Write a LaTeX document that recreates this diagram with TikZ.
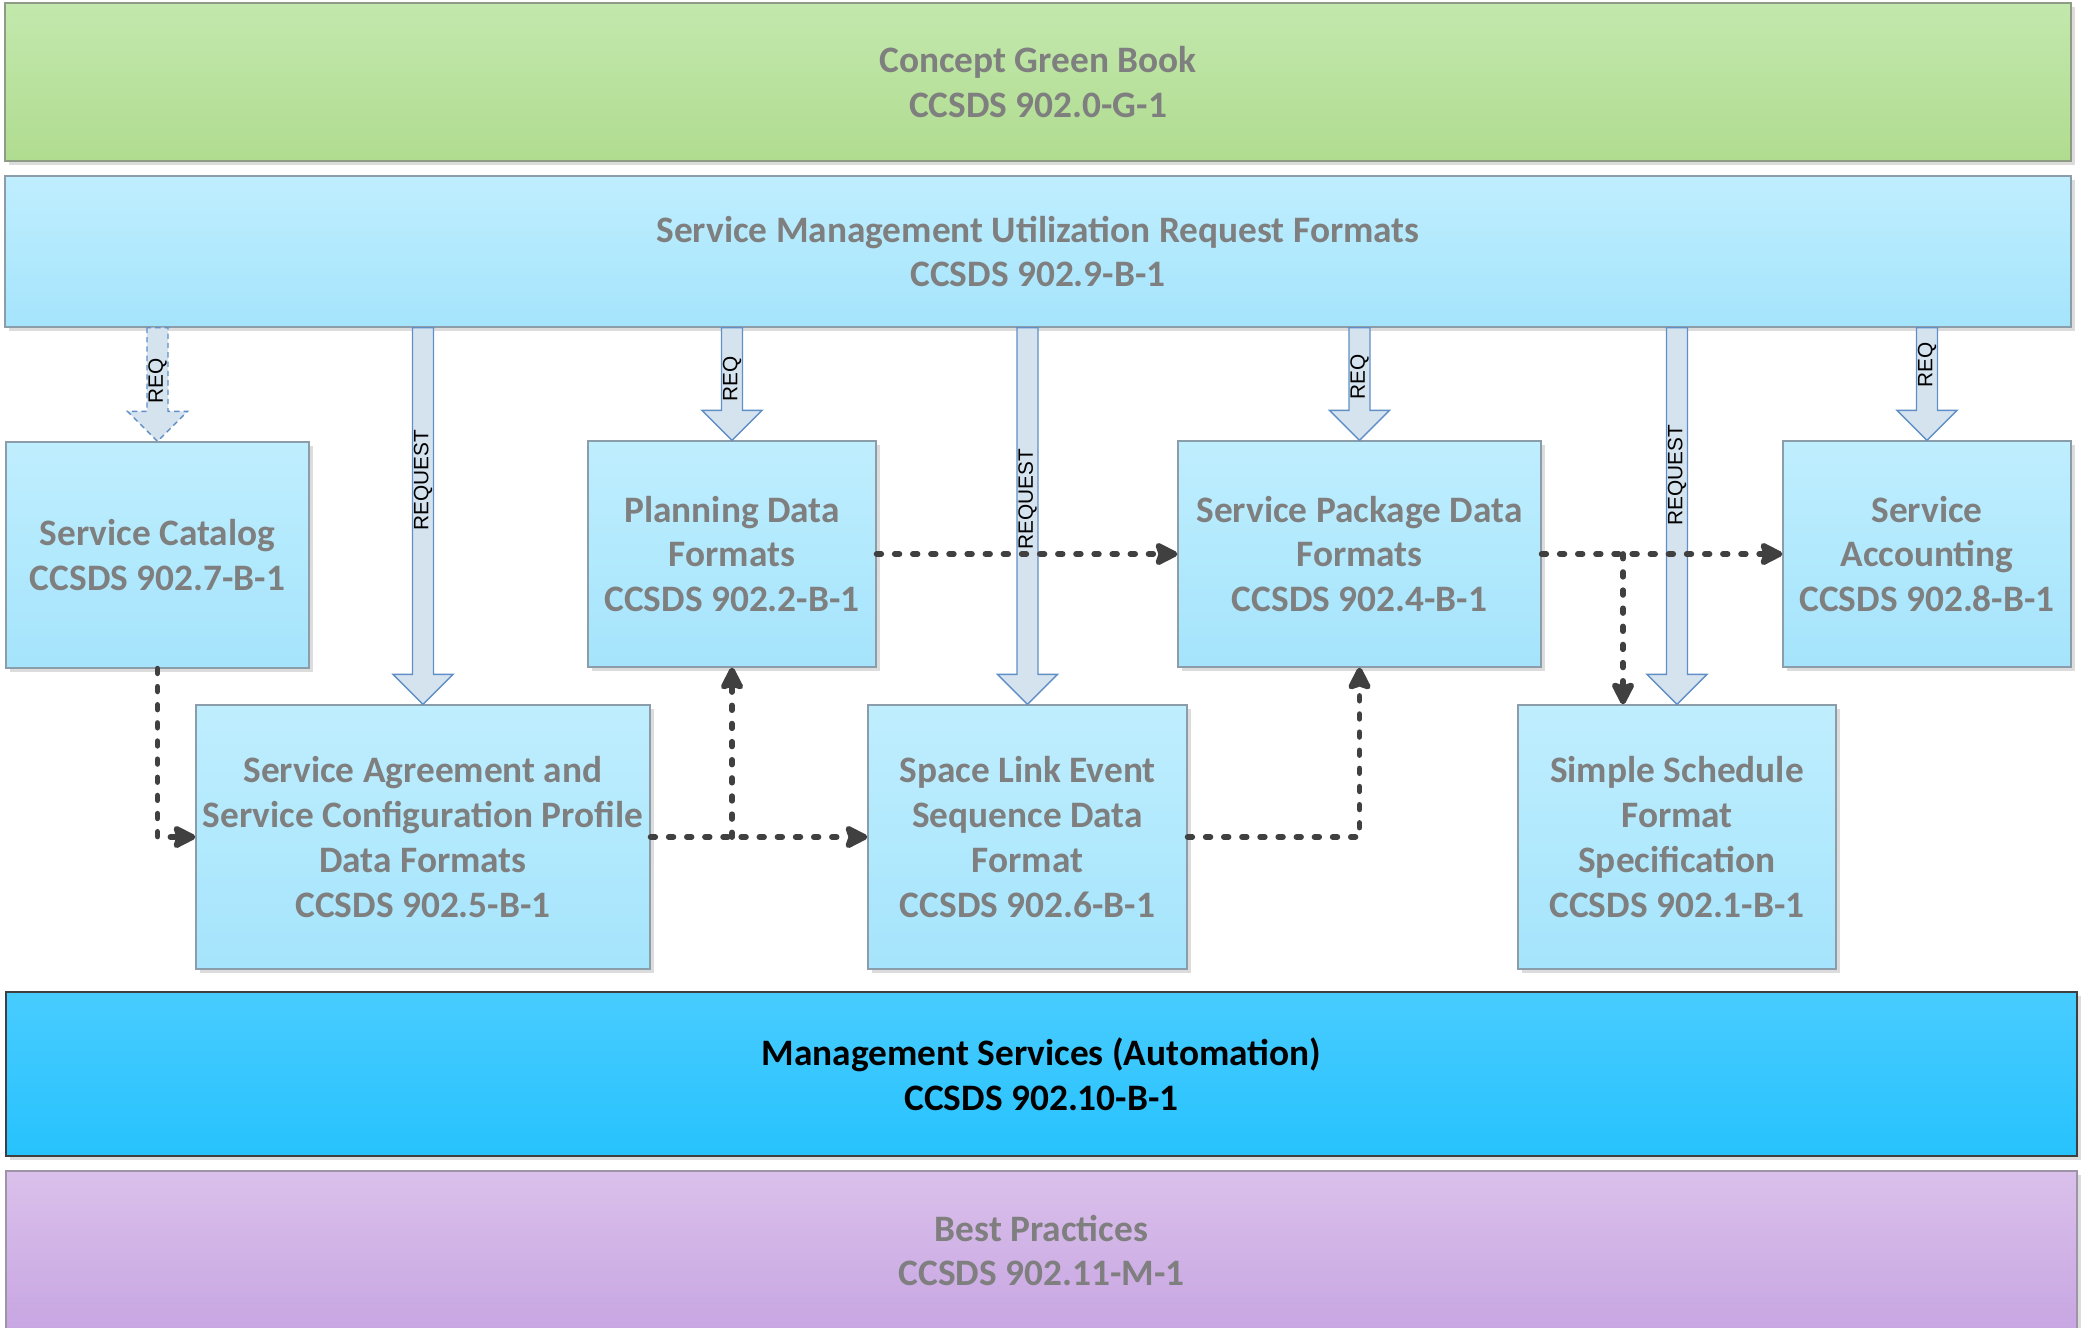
\documentclass[tikz,border=0pt]{standalone}
\usepackage{fontspec}
\setmainfont{Carlito}
\newfontfamily\lblfont{Liberation Sans}
\usetikzlibrary{arrows.meta,shadows,calc}
\definecolor{txtgray}{HTML}{7F7F7F}
\definecolor{btop}{HTML}{BFEEFE}
\definecolor{bbot}{HTML}{A5E4FC}
\definecolor{bbord}{HTML}{8C9DAA}
\definecolor{gtop}{HTML}{C3E8AD}
\definecolor{gbot}{HTML}{B0DC90}
\definecolor{gbord}{HTML}{8E9C86}
\definecolor{mtop}{HTML}{48CCFF}
\definecolor{mbot}{HTML}{27C2FD}
\definecolor{mbord}{HTML}{3F3F3F}
\definecolor{ptop}{HTML}{DAC0EB}
\definecolor{pbot}{HTML}{C8A6E2}
\definecolor{pbord}{HTML}{9E94A8}
\definecolor{shcol}{HTML}{DCDCDC}
\definecolor{arrfill}{HTML}{D5E3EF}
\definecolor{arrbord}{HTML}{5F8FC6}
\definecolor{conncol}{HTML}{404040}
\tikzset{
  box/.style={draw=bbord, line width=0.5pt, top color=btop, bottom color=bbot,
    inner sep=0pt, align=center, font=\fontsize{14}{16.8}\selectfont\bfseries,
    text=txtgray, general shadow={fill=shcol, shadow xshift=1.5pt, shadow yshift=-1.5pt}},
  greenbox/.style={box, draw=gbord, top color=gtop, bottom color=gbot},
  mgmtbox/.style={box, draw=mbord, top color=mtop, bottom color=mbot, text=black},
  purplebox/.style={box, draw=pbord, top color=ptop, bottom color=pbot},
  blk/.style={fill=arrfill, draw=arrbord, line width=0.5pt, line join=miter},
  reqlbl/.style={rotate=90, inner sep=0pt, font=\lblfont\fontsize{7.8}{9}\selectfont, text=black},
  conn/.style={draw=conncol, line width=2.2pt, line cap=round, dash pattern=on 1.7pt off 5.1pt,
    -{Stealth[length=10pt, width=10pt, inset=1.6pt, line cap=butt, round=false]}},
}
\newcommand\reqarrow[5][]{%
  \filldraw[blk,#1] let \p1=(#2.north), \p2=(smurf.south) in
    (\x1-3.94pt,\y2) -- (\x1-3.94pt,\y1+11.25pt) -- (\x1-11.25pt,\y1+11.25pt) -- (\x1,\y1)
    -- (\x1+11.25pt,\y1+11.25pt) -- (\x1+3.94pt,\y1+11.25pt) -- (\x1+3.94pt,\y2) -- cycle;
  \node[reqlbl] (#5) at (#2.north |- 0,#4) {#3};
}
\begin{document}
\begin{tikzpicture}[x=0.375pt,y=-0.375pt]
\useasboundingbox (0,0) rectangle (2087,1327);
\clip (0,0) rectangle (2087,1327);

\node[greenbox, minimum width=774.75pt, minimum height=59.25pt] (green) at (1038,82)
  {Concept Green Book\\CCSDS 902.0-G-1};
\node[box, minimum width=774.75pt, minimum height=56.625pt] (smurf) at (1038,251.5)
  {Service Management Utilization Request Formats\\CCSDS 902.9-B-1};

\node[box, minimum width=113.625pt, minimum height=84.75pt] (catalog) at (157.5,555)
  {Service Catalog\\CCSDS 902.7-B-1};
\node[box, minimum width=108pt, minimum height=84.75pt] (planning) at (732,554)
  {Planning Data\\Formats\\CCSDS 902.2-B-1};
\node[box, minimum width=136.125pt, minimum height=84.75pt] (package) at (1359.5,554)
  {Service Package Data\\Formats\\CCSDS 902.4-B-1};
\node[box, minimum width=108pt, minimum height=84.75pt] (accounting) at (1927,554)
  {Service\\Accounting\\CCSDS 902.8-B-1};

\node[box, minimum width=170.25pt, minimum height=99pt] (agreement) at (423,837)
  {Service Agreement and\\Service Configuration Profile\\Data Formats\\CCSDS 902.5-B-1};
\node[box, minimum width=119.625pt, minimum height=99pt] (spacelink) at (1027.5,837)
  {Space Link Event\\Sequence Data\\Format\\CCSDS 902.6-B-1};
\node[box, minimum width=119.25pt, minimum height=99pt] (schedule) at (1677,837)
  {Simple Schedule\\Format\\Specification\\CCSDS 902.1-B-1};

\node[mgmtbox, minimum width=776.625pt, minimum height=61.5pt] (mgmt) at (1041.5,1074)
  {Management Services (Automation)\\CCSDS 902.10-B-1};
\node[purplebox, minimum width=776.625pt, minimum height=59.625pt] (best) at (1041.5,1250.5)
  {Best Practices\\CCSDS 902.11-M-1};

% block arrows
\reqarrow[dashed, dash pattern=on 2pt off 1.5pt]{catalog}{REQ}{381}{l1}
\reqarrow{agreement}{REQUEST}{480}{l2}
\reqarrow{planning}{REQ}{379}{l3}
\reqarrow{spacelink}{REQUEST}{499}{l4}
\reqarrow{package}{REQ}{377}{l5}
\reqarrow{schedule}{REQUEST}{475}{l6}
\reqarrow{accounting}{REQ}{365}{l7}

% dotted connectors
\coordinate (br) at (1623,554);
\draw[conn] (catalog.south) |- (agreement.west);
\draw[conn] (agreement.east) -- (spacelink.west);
\draw[conn] (planning.south |- agreement.east) -- (planning.south);
\draw[conn] (planning.east) -- (package.west);
\draw[conn] (spacelink.east) -| (package.south);
\draw[conn] (package.east) -- (accounting.west);
\draw[conn] (br) -- (br |- schedule.north);
\end{tikzpicture}
\end{document}
